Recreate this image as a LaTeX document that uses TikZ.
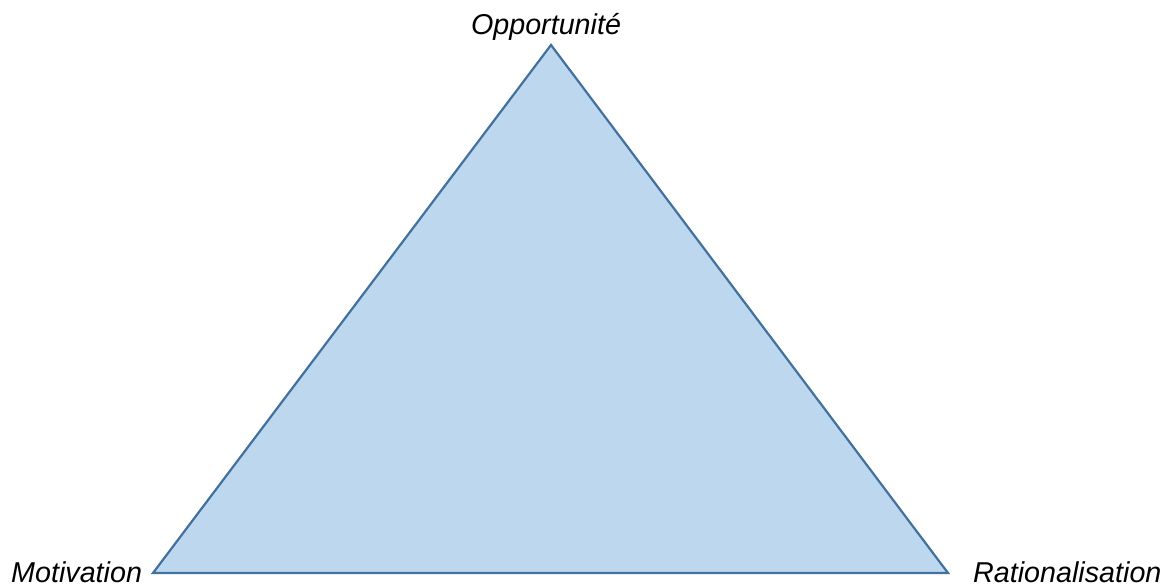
\documentclass[tikz,border=0pt]{standalone}
\usepackage{fontspec}
\setmainfont{Liberation Sans}
\definecolor{triFill}{HTML}{BDD7EE}
\definecolor{triLine}{HTML}{41719C}
\begin{document}
\begin{tikzpicture}[x=1pt,y=1pt,
  lbl/.style={font=\fontsize{28.7}{31}\selectfont\itshape, inner sep=0pt, text=black}]
\useasboundingbox (0,0) rectangle (1172,586);
\coordinate (top) at (551,541);
\coordinate (bl) at (153,13);
\coordinate (br) at (948,13);
\filldraw[fill=triFill, draw=triLine, line width=2.2pt, line join=miter] (bl) -- (top) -- (br) -- cycle;
\node[lbl, anchor=base] (opp) at (546,551) {Opportunité};
\node[lbl, anchor=base west] (mot) at (11,4) {Motivation};
\node[lbl, anchor=base west] (rat) at (973,4) {Rationalisation};
\end{tikzpicture}
\end{document}
